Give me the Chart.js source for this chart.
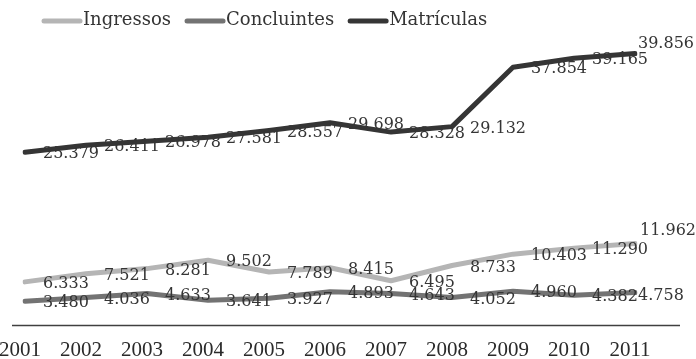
<!DOCTYPE html>
<html>
<head>
<meta charset="utf-8">
<script src="https://cdn.jsdelivr.net/npm/chart.js@4/dist/chart.umd.min.js"></script>
<style>
  html, body { margin: 0; padding: 0; background: #fff; }
</style>
</head>
<body>
<canvas id="grafico" width="696" height="359"></canvas>
<script>
// Anos e séries (valores absolutos)
const anos = ['2001', '2002', '2003', '2004', '2005', '2006', '2007', '2008', '2009', '2010', '2011'];
const ingressos   = [6333, 7521, 8281, 9502, 7789, 8415, 6495, 8733, 10403, 11290, 11962];
const concluintes = [3480, 4036, 4633, 3641, 3927, 4893, 4643, 4052, 4960, 4382, 4758];
const matriculas  = [25379, 26411, 26978, 27581, 28557, 29698, 28328, 29132, 37854, 39165, 39856];

const FONTE = '"DejaVu Serif", serif';
const FONTE_EIXO = '"Liberation Serif", serif';
const COR_TEXTO = '#353535';

// Formato brasileiro: ponto como separador de milhar
function formatar(n) {
  return String(n).replace(/\B(?=(\d{3})+(?!\d))/g, '.');
}

// Deslocamento dos rótulos (à direita do ponto); o último ponto de cada série é ajustado
const rotuloPadrao = { dx: 18, dy: 2 };
const rotuloUltimo = [
  { dx: 5, dy: -13 },   // Ingressos
  { dx: 3, dy: 3 },     // Concluintes
  { dx: 3, dy: -10 }    // Matrículas
];

const rotulosPlugin = {
  id: 'rotulos',
  afterDatasetsDraw(chart) {
    const ctx = chart.ctx;
    ctx.save();
    ctx.font = '16px ' + FONTE;
    ctx.fillStyle = COR_TEXTO;
    ctx.textAlign = 'left';
    ctx.textBaseline = 'middle';
    chart.data.datasets.forEach((ds, i) => {
      const meta = chart.getDatasetMeta(i);
      meta.data.forEach((pt, j) => {
        const off = j === ds.data.length - 1 ? rotuloUltimo[i] : rotuloPadrao;
        ctx.fillText(formatar(ds.data[j]), pt.x + off.dx, pt.y + off.dy);
      });
    });
    ctx.restore();
  }
};

// Linha de base do eixo horizontal
const baseEixoPlugin = {
  id: 'baseEixo',
  beforeDatasetsDraw(chart) {
    const ctx = chart.ctx;
    const y = Math.round(chart.scales.y.getPixelForValue(0)) + 0.5;
    ctx.save();
    ctx.strokeStyle = '#404040';
    ctx.lineWidth = 1.5;
    ctx.beginPath();
    ctx.moveTo(12, y);
    ctx.lineTo(680, y);
    ctx.stroke();
    ctx.restore();
  }
};

// Legenda desenhada em linha no topo
const legendaPlugin = {
  id: 'legenda',
  afterDraw(chart) {
    const ctx = chart.ctx;
    ctx.save();
    ctx.font = '18px ' + FONTE;
    ctx.textBaseline = 'middle';
    ctx.textAlign = 'left';
    let x = 42;
    const y = 20;
    chart.data.datasets.forEach(ds => {
      ctx.strokeStyle = ds.borderColor;
      ctx.lineWidth = 5;
      ctx.lineCap = 'round';
      ctx.beginPath();
      ctx.moveTo(x + 2, y + 1);
      ctx.lineTo(x + 38, y + 1);
      ctx.stroke();
      ctx.fillStyle = COR_TEXTO;
      ctx.fillText(ds.label, x + 41, y);
      x += 41 + ctx.measureText(ds.label).width + 14;
    });
    ctx.restore();
  }
};

const serie = (label, data, cor) => ({
  label, data,
  borderColor: cor,
  backgroundColor: cor,
  borderWidth: 5,
  tension: 0,
  pointRadius: 0,
  pointHoverRadius: 0,
  borderCapStyle: 'round',
  borderJoinStyle: 'round',
  fill: false
});

new Chart(document.getElementById('grafico'), {
  type: 'line',
  data: {
    labels: anos,
    datasets: [
      serie('Ingressos', ingressos, '#b5b5b5'),
      serie('Concluintes', concluintes, '#737373'),
      serie('Matrículas', matriculas, '#353535')
    ]
  },
  options: {
    responsive: false,
    animation: false,
    events: [],
    layout: { padding: { left: 25, right: 61, top: 39, bottom: 0 } },
    plugins: {
      legend: { display: false },
      tooltip: { enabled: false }
    },
    scales: {
      x: {
        offset: false,
        grid: { display: false, drawTicks: false },
        border: { display: false },
        ticks: {
          color: '#2a2a2a',
          font: { family: FONTE_EIXO, size: 21 },
          padding: 13,
          labelOffset: -5,
          maxRotation: 0,
          autoSkip: false
        },
        afterFit(scale) {
          scale.height = 34;
          scale.paddingLeft = 0;
          scale.paddingRight = 0;
        }
      },
      y: {
        display: false,
        min: 0,
        max: 42000
      }
    }
  },
  plugins: [baseEixoPlugin, rotulosPlugin, legendaPlugin]
});
</script>
</body>
</html>
